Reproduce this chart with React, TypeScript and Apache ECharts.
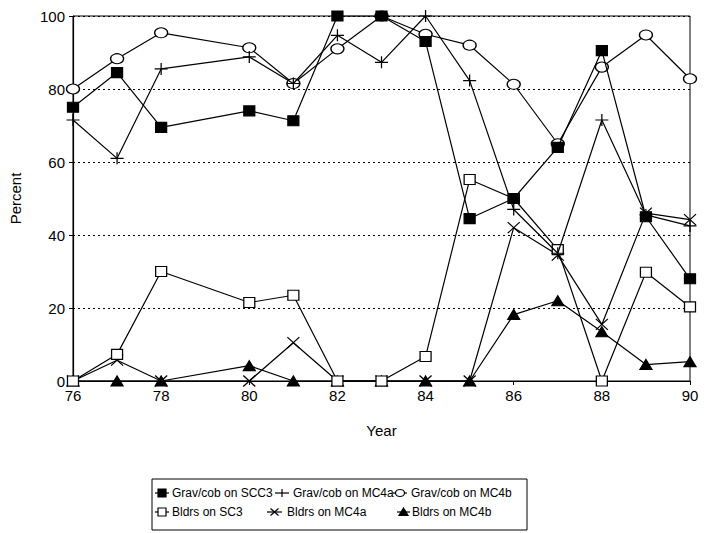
import React, { useEffect, useRef } from "react";
import * as echarts from "echarts";

const years = [76, 77, 78, 80, 81, 82, 83, 84, 85, 86, 87, 88, 89, 90];
const gravSCC3 = [75, 84.5, 69.5, 74, 71.3, 100, 100, 93, 44.5, 50, 64, 90.5, 45, 28];
const gravMC4a = [71.5, 61, 85.5, 88.8, 81.5, 94.7, 87.3, 100, 82.3, 47, 35, 71.5, 45.5, 42.5];
const gravMC4b = [80, 88.3, 95.4, 91.3, 81.5, 91, 100, 95, 92, 81.3, 65, 86, 94.8, 82.8];
const bldrsSC3 = [0, 7.3, 30, 21.5, 23.5, 0, 0, 6.7, 55.2, 50, 36, 0, 29.8, 20.3];
const bldrsMC4a = [0, 5.7, 0, 0, 10.5, 0, 0, 0, 0, 42, 34.5, 15.5, 46, 44.2];
const bldrsMC4b = [0, 0, 0, 4.2, 0, 0, 0, 0, 0, 18.2, 22, 13.5, 4.5, 5.3];
const seriesNames = [
  "Grav/cob on SCC3",
  "Grav/cob on MC4a",
  "Grav/cob on MC4b",
  "Bldrs on SC3",
  "Bldrs on MC4a",
  "Bldrs on MC4b",
];

const FONT = "Arial, 'Liberation Sans', sans-serif";
const PLUS = "path://M0,5L10,5M5,0L5,10";
const CROSS = "path://M0,0L10,10M10,0L0,10";
const markerKinds = ["square", "plus", "circle", "openSquare", "cross", "triangle"];

function legendMarker(kind: string, cx: number, cy: number): any[] {
  const st = { stroke: "#000", lineWidth: 1.2 };
  switch (kind) {
    case "square":
      return [{ type: "rect", shape: { x: cx - 4, y: cy - 4, width: 8, height: 8 }, style: { ...st, fill: "#000" } }];
    case "openSquare":
      return [{ type: "rect", shape: { x: cx - 4, y: cy - 4, width: 8, height: 8 }, style: { ...st, fill: "#fff" } }];
    case "circle":
      return [{ type: "ellipse", shape: { cx, cy, rx: 4.5, ry: 3.5 }, style: { ...st, fill: "#fff" } }];
    case "triangle":
      return [{ type: "polygon", shape: { points: [[cx, cy - 4], [cx + 4.5, cy + 3.5], [cx - 4.5, cy + 3.5]] }, style: { ...st, fill: "#000" } }];
    case "plus":
      return [{ type: "line", shape: { x1: cx, y1: cy - 4, x2: cx, y2: cy + 4 }, style: st }];
    case "cross":
      return [
        { type: "line", shape: { x1: cx - 4, y1: cy - 3.5, x2: cx + 4, y2: cy + 3.5 }, style: st },
        { type: "line", shape: { x1: cx + 4, y1: cy - 3.5, x2: cx - 4, y2: cy + 3.5 }, style: st },
      ];
  }
  return [];
}

export default function App() {
  const ref = useRef<HTMLDivElement>(null);
  useEffect(() => {
    if (!ref.current) return;
    const chart = echarts.init(ref.current, null, { renderer: "svg" });
    const mk = (vals: number[]) => years.map((y, i) => [y, vals[i]]);
    const styles = [
      { symbol: "rect", size: [11, 10], fill: "#000" },
      { symbol: PLUS, size: [13, 12], fill: "#000" },
      { symbol: "circle", size: [13, 10], fill: "#fff" },
      { symbol: "rect", size: [11, 10], fill: "#fff" },
      { symbol: CROSS, size: [12, 11], fill: "#000" },
      { symbol: "triangle", size: [12, 10], fill: "#000" },
    ];
    const datasets = [gravSCC3, gravMC4a, gravMC4b, bldrsSC3, bldrsMC4a, bldrsMC4b];
    const series = datasets.map((vals, i) => ({
      name: seriesNames[i],
      type: "line",
      data: mk(vals),
      symbol: styles[i].symbol,
      symbolSize: styles[i].size,
      showAllSymbol: true,
      lineStyle: { color: "#000", width: 1.2 },
      itemStyle: { color: styles[i].fill, borderColor: "#000", borderWidth: 1.2 },
      emphasis: { disabled: true },
      z: 10 - i,
    }));
    // legend layout: [iconLeft, iconRight, textX, centerY]
    const legendPos = [
      [155, 169, 172, 493],
      [275, 289, 293, 493],
      [393, 407, 411, 493],
      [155, 169, 172, 512],
      [267, 282, 287, 512],
      [397, 410, 412, 512],
    ];
    const legendEls: any[] = [
      {
        type: "rect",
        shape: { x: 152, y: 479, width: 375, height: 51 },
        style: { fill: "#fff", stroke: "#000", lineWidth: 1 },
      },
    ];
    seriesNames.forEach((n, i) => {
      const [l, r, tx, cy] = legendPos[i];
      const cx = (l + r) / 2;
      legendEls.push({
        type: "line",
        shape: { x1: l, y1: cy, x2: r, y2: cy },
        style: { stroke: "#000", lineWidth: 1.2 },
      });
      legendEls.push(...legendMarker(markerKinds[i], cx, cy));
      legendEls.push({
        type: "text",
        style: {
          text: n,
          x: tx,
          y: cy,
          fill: "#000",
          fontFamily: FONT,
          fontSize: 12,
          verticalAlign: "middle",
          align: "left",
        },
      });
    });
    chart.setOption({
      animation: false,
      backgroundColor: "#fff",
      grid: {
        left: 72,
        right: 23,
        top: 16,
        bottom: 152,
        show: true,
        borderColor: "#000",
        borderWidth: 1,
        backgroundColor: "transparent",
      },
      graphic: legendEls,
      xAxis: {
        type: "value",
        min: 76,
        max: 90,
        interval: 2,
        name: "Year",
        nameLocation: "middle",
        nameGap: 42,
        nameTextStyle: { fontFamily: FONT, fontSize: 15, color: "#000" },
        axisLine: { lineStyle: { color: "#000", width: 1.2 } },
        axisTick: { show: true, length: 4, lineStyle: { color: "#000" } },
        axisLabel: { fontFamily: FONT, fontSize: 15, color: "#000", margin: 7 },
        splitLine: { show: false },
      },
      yAxis: {
        type: "value",
        min: 0,
        max: 100,
        interval: 20,
        name: "Percent",
        nameLocation: "middle",
        nameGap: 50,
        nameRotate: 90,
        nameTextStyle: { fontFamily: FONT, fontSize: 15, color: "#000" },
        axisLine: { show: true, lineStyle: { color: "#000", width: 1.2 } },
        axisTick: { show: true, length: 4, lineStyle: { color: "#000" } },
        axisLabel: { fontFamily: FONT, fontSize: 15, color: "#000", margin: 8 },
        splitLine: { show: true, lineStyle: { color: "#000", type: [2, 3], width: 1.2 } },
      },
      series,
    });
    return () => chart.dispose();
  }, []);
  return <div ref={ref} style={{ width: 713, height: 533, position: "absolute", left: 0, top: 0 }} />;
}
